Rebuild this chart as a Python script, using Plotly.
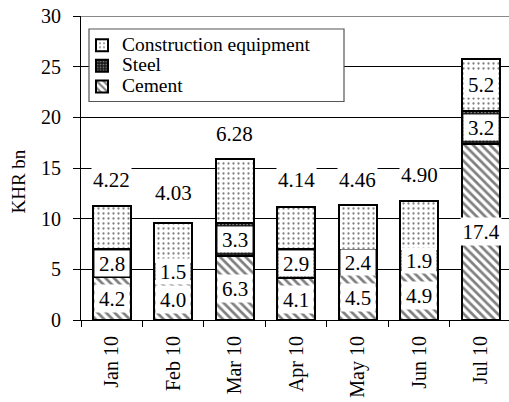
import plotly.graph_objects as go

# ---- data ----
months = ["Jan 10", "Feb 10", "Mar 10", "Apr 10", "May 10", "Jun 10", "Jul 10"]
cement = [4.2, 4.0, 6.3, 4.1, 4.5, 4.9, 17.4]
steel = [2.8, 1.5, 3.3, 2.9, 2.4, 1.9, 3.2]
equipment = [4.22, 4.03, 6.28, 4.14, 4.46, 4.90, 5.2]
cement_lbl = ["4.2", "4.0", "6.3", "4.1", "4.5", "4.9", "17.4"]
steel_lbl = ["2.8", "1.5", "3.3", "2.9", "2.4", "1.9", "3.2"]
equip_lbl = ["4.22", "4.03", "6.28", "4.14", "4.46", "4.90", "5.2"]
y_ticks = [0, 5, 10, 15, 20, 25, 30]

FONT = "Liberation Serif, Times New Roman, Times, serif"
W, H = 509, 402
# plot area in page pixels: x 81..509, y 16..320
ML, MR, MT, MB = 81, 0, 16, H - 320

pw = W - ML - MR
ph = H - MB - MT
def px2x(p):
    return (p - ML) / pw
def py2y(p):
    return (H - MB - p) / ph

def lg(name):
    return "<span style='font-size:19.5px'>" + name + "</span>"

fig = go.Figure()
line = dict(color="black", width=2)
fig.add_trace(go.Bar(x=months, y=cement, name=lg("Cement"),
                     marker=dict(color="white", line=line,
                                 pattern=dict(shape="\\", size=6, solidity=0.45,
                                              fgcolor="black", bgcolor="white"))))
fig.add_trace(go.Bar(x=months, y=steel, name=lg("Steel"),
                     marker=dict(color="#1a1a1a", line=line,
                                 pattern=dict(shape=".", size=3.5, solidity=0.25,
                                              fgcolor="white", bgcolor="#1a1a1a"))))
fig.add_trace(go.Bar(x=months, y=equipment, name=lg("Construction equipment"),
                     marker=dict(color="white", line=line,
                                 pattern=dict(shape=".", size=5, solidity=0.16,
                                              fgcolor="black", bgcolor="white"))))

lab_font = dict(family=FONT, size=21, color="black")
for i, m in enumerate(months):
    fig.add_annotation(x=m, y=cement[i] / 2, text=cement_lbl[i], showarrow=False,
                       font=lab_font, bgcolor="white", borderpad=0,
                       width=40 if len(cement_lbl[i]) > 3 else 34, height=27)
for i, m in enumerate(months):
    fig.add_annotation(x=m, y=cement[i] + steel[i] / 2, text=steel_lbl[i], showarrow=False,
                       font=lab_font, bgcolor="white", borderpad=0, width=34, height=25)
top_shift = [26, 30, 25, 27, 25, 26, 0]
for i, m in enumerate(months):
    total = cement[i] + steel[i] + equipment[i]
    if i == len(months) - 1:
        fig.add_annotation(x=m, y=cement[i] + steel[i] + equipment[i] / 2, text=equip_lbl[i],
                           showarrow=False, font=lab_font, bgcolor="white", borderpad=0,
                           width=34, height=25)
    else:
        fig.add_annotation(x=m, y=total, yshift=top_shift[i], text=equip_lbl[i],
                           showarrow=False, font=lab_font, bgcolor="white", borderpad=1)

# y title
fig.add_annotation(xref="paper", yref="paper", x=px2x(17.5), y=py2y(182),
                   xanchor="center", yanchor="middle", text="KHR bn", textangle=-90,
                   showarrow=False, font=dict(family=FONT, size=19, color="black"))

# legend box
fig.add_shape(type="rect", xref="paper", yref="paper",
              x0=px2x(89), x1=px2x(344), y0=py2y(101.5), y1=py2y(29),
              fillcolor="white", line=dict(color="#555555", width=1.2), layer="above")
# top border line
fig.add_shape(type="line", xref="paper", yref="y", x0=0, x1=1, y0=30, y1=30,
              line=dict(color="#888888", width=2), layer="above")

fig.update_layout(
    width=W, height=H,
    margin=dict(l=ML, r=MR, t=MT, b=MB, autoexpand=False),
    barmode="stack", bargap=0.375,
    plot_bgcolor="white", paper_bgcolor="white",
    font=dict(family=FONT, size=18, color="black"),
    showlegend=True,
    legend=dict(x=px2x(82), y=py2y(30), xanchor="left", yanchor="top",
                traceorder="reversed", bgcolor="rgba(0,0,0,0)", borderwidth=0,
                font=dict(family=FONT, size=13.5, color="black"),
                tracegroupgap=0, itemwidth=30),
    xaxis=dict(range=[-0.5, 6.46], showline=True, linecolor="black", linewidth=1,
               ticks="outside", tickson="boundaries", ticklen=6, tickcolor="black",
               tickangle=-90, showgrid=False, ticklabelstandoff=7,
               tickfont=dict(family=FONT, size=20, color="black")),
    yaxis=dict(range=[0, 30], tickvals=y_ticks, showline=True, linecolor="black",
               linewidth=1, ticks="outside", ticklen=7, tickcolor="black",
               showgrid=True, gridcolor="black", gridwidth=1, zeroline=False,
               ticklabelstandoff=8, ticklabeloverflow="allow",
               tickfont=dict(family=FONT, size=20, color="black")),
)

fig.write_html("out.html", config={"displayModeBar": False},
               post_script="document.body.style.margin='0';")
